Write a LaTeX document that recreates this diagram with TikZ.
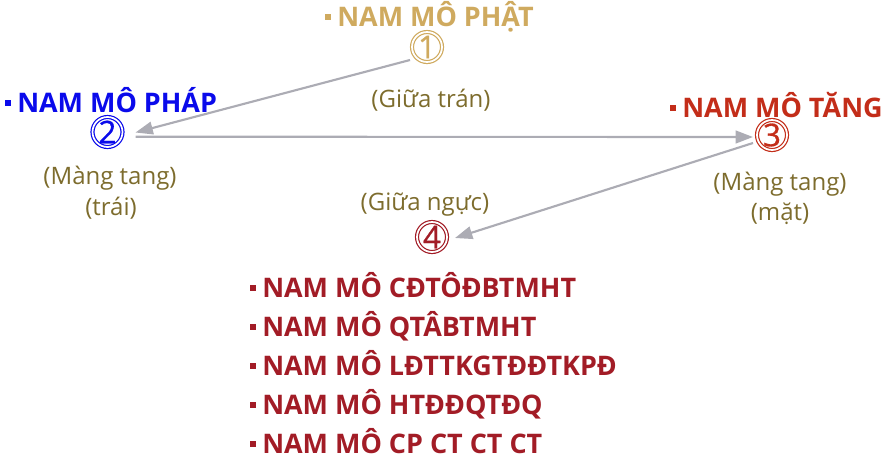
\documentclass[tikz,border=0pt]{standalone}
\usepackage{fontspec}
\setmainfont{Open Sans}
\newfontfamily\ringfont[FakeBold=0.9]{Open Sans}
\usetikzlibrary{arrows.meta,calc}

\definecolor{gold}{RGB}{207,170,95}
\definecolor{olive}{RGB}{125,108,45}
\definecolor{royal}{RGB}{10,10,235}
\definecolor{brick}{RGB}{195,45,25}
\definecolor{wine}{RGB}{162,28,38}
\definecolor{linkgray}{RGB}{172,172,180}

% small square bullet in front of each heading
\newcommand{\sqbullet}{\rule[4.8pt]{4pt}{4pt}\hspace{5pt}}

\tikzset{
  heading/.style={anchor=base west, inner sep=0pt, font=\fontsize{20.2pt}{22pt}\selectfont\bfseries},
  caption/.style={anchor=base, inner sep=0pt, text=olive, font=\fontsize{18pt}{20pt}\selectfont},
  ring/.style={circle, draw=#1, text=#1, line width=0.9pt, double=white,
    double distance=1.3pt, minimum size=22.5pt, inner sep=0pt,
    font=\ringfont\fontsize{23.5pt}{23.5pt}\selectfont},
  link/.style={draw=linkgray, line width=1.6pt,
    -{Triangle[length=13pt,width=9.5pt]}}
}

\begin{document}
\begin{tikzpicture}[x=0.75pt,y=-0.75pt]
\useasboundingbox (0,0) rectangle (889,461);

% numbered rings
\node[ring=gold]  (c1) at (427,47)    {1};
\node[ring=royal] (c2) at (107.5,132) {2};
\node[ring=brick] (c3) at (772,135)   {3};
\node[ring=wine]  (c4) at (432,237)   {4};

% headings
\node[heading, text=gold]  (h1) at (325,26)  {\sqbullet NAM MÔ PHẬT};
\node[heading, text=royal] (h2) at (5,112)   {\sqbullet NAM MÔ PHÁP};
\node[heading, text=brick] (h3) at (670,117) {\sqbullet NAM MÔ TĂNG};

% captions
\node[caption] (t1)  at (431,107) {(Giữa trán)};
\node[caption] (t2a) at (110,184) {(Màng tang)};
\node[caption] (t2b) at (111,215) {(trái)};
\node[caption] (t3a) at (780,190) {(Màng tang)};
\node[caption] (t3b) at (780,220) {(mặt)};
\node[caption] (t4)  at (425,210) {(Giữa ngực)};

% list under ring 4
\node[heading, text=wine] (l1) at (250,297) {\sqbullet NAM MÔ CĐTÔĐBTMHT};
\node[heading, text=wine] (l2) at (250,336) {\sqbullet NAM MÔ QTÂBTMHT};
\node[heading, text=wine] (l3) at (250,375) {\sqbullet NAM MÔ LĐTTKGTĐĐTKPĐ};
\node[heading, text=wine] (l4) at (250,414) {\sqbullet NAM MÔ HTĐĐQTĐQ};
\node[heading, text=wine] (l5) at (250,453) {\sqbullet NAM MÔ CP CT CT CT};

% connectors
\draw[link] ($(c1)+(-17,13)$) -- ($(c2)+(28,0.5)$);
\draw[link] ($(c2)+(28,4.7)$) -- ($(c3)+(-19,2)$);
\draw[link] ($(c3)+(-19,8)$)  -- ($(c4)+(23,1)$);
\end{tikzpicture}
\end{document}
